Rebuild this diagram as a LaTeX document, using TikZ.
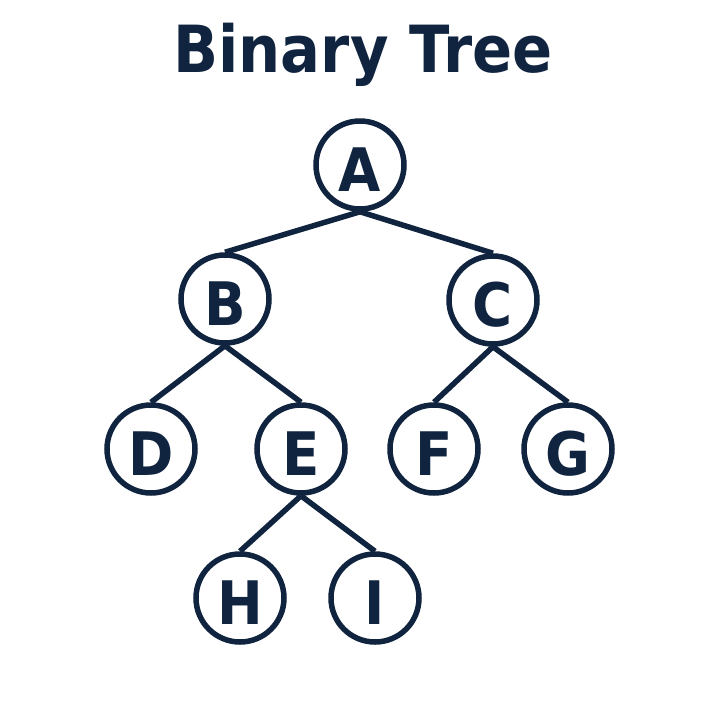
\documentclass[tikz,border=0pt]{standalone}
\usepackage{fontspec}
\newfontfamily\treefont[FakeStretch=0.91]{DejaVu Sans}
\definecolor{navy}{HTML}{10243F}
\begin{document}
\begin{tikzpicture}[x=1pt,y=-1pt,
  treenode/.style={circle,draw=navy,line width=5.5pt,minimum size=88pt,inner sep=0pt,
    text height=52pt,text depth=0pt,
    text=navy,font=\treefont\bfseries\fontsize{60}{60}\selectfont},
  edge/.style={draw=navy,line width=5.5pt}]
\useasboundingbox (0,0) rectangle (715,710);
\node[text=navy,font=\treefont\bfseries\fontsize{65}{65}\selectfont,anchor=base] (title) at (363,72) {Binary Tree};
\node[treenode] (A) at (360,165) {A};
\node[treenode] (B) at (225,299) {B};
\node[treenode] (C) at (493,300) {C};
\node[treenode] (D) at (151,449) {D};
\node[treenode] (E) at (301,449) {E};
\node[treenode] (F) at (434,449) {F};
\node[treenode] (G) at (568,449) {G};
\node[treenode] (H) at (240,598) {H};
\node[treenode] (I) at (375,598) {I};
\draw[edge] (A.south) -- (B.north);
\draw[edge] (A.south) -- (C.north);
\draw[edge] (B.south) -- (D.north);
\draw[edge] (B.south) -- (E.north);
\draw[edge] (C.south) -- (F.north);
\draw[edge] (C.south) -- (G.north);
\draw[edge] (E.south) -- (H.north);
\draw[edge] (E.south) -- (I.north);
\end{tikzpicture}
\end{document}
